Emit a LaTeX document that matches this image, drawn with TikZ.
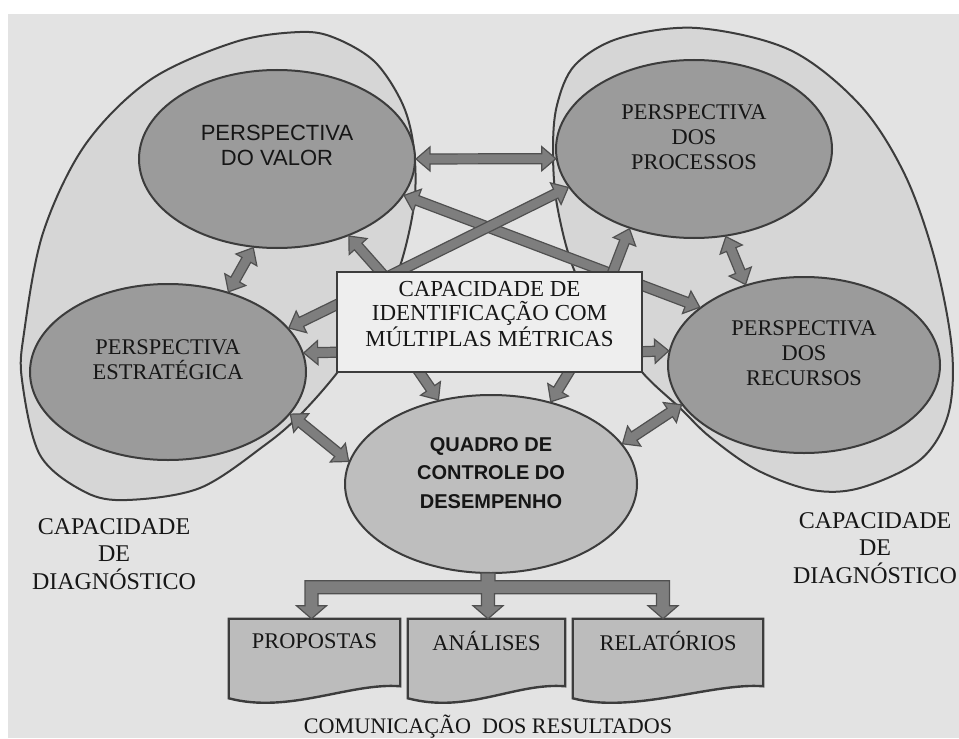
\documentclass[tikz,border=0pt]{standalone}
\usepackage{fontspec}
\setmainfont{Liberation Serif}
\newfontfamily\arialf{Liberation Sans}
\usetikzlibrary{calc,shapes.geometric}
\pgfdeclarelayer{back}
\pgfdeclarelayer{blob}
\pgfdeclarelayer{ell}
\pgfdeclarelayer{arr}
\pgfsetlayers{back,blob,ell,arr,main}

\definecolor{bgc}{HTML}{E3E3E3}
\definecolor{blobc}{HTML}{D6D6D6}
\definecolor{ellc}{HTML}{9B9B9B}
\definecolor{quadc}{HTML}{BEBEBE}
\definecolor{boxc}{HTML}{EEEEEE}
\definecolor{arrc}{HTML}{7E7E7E}
\definecolor{arrl}{HTML}{505050}
\definecolor{linec}{HTML}{3C3C3C}
\definecolor{docc}{HTML}{BCBCBC}
\definecolor{txtc}{HTML}{161616}

\tikzset{
  blobsty/.style={draw=linec, line width=1.5pt, fill=blobc},
  persp/.style={ellipse, draw=linec, line width=1.5pt, fill=ellc, inner sep=0pt},
  cbox/.style={rectangle, draw=linec, line width=1pt, fill=boxc, inner sep=0pt,
    minimum width=228.75pt, minimum height=75pt},
  arrsty/.style={fill=arrc, draw=arrl, line width=0.9pt, line join=miter},
  docn/.style={rectangle, draw=none, inner sep=0pt},
  docsty/.style={draw=linec, line width=1.8pt, fill=docc, line join=miter},
  rmtxt/.style={text=txtc, align=center, inner sep=0pt, font=\fontsize{16.8}{18.75}\selectfont},
  sftxt/.style={text=txtc, align=center, inner sep=0pt, font=\arialf\fontsize{16.5}{18.75}\selectfont},
  sfbtxt/.style={text=txtc, align=center, inner sep=0pt, font=\arialf\bfseries\fontsize{15}{21.4}\selectfont},
  boxtxt/.style={text=txtc, align=center, inner sep=0pt, font=\fontsize{17.2}{18}\selectfont},
  diagtxt/.style={text=txtc, align=center, inner sep=0pt, font=\fontsize{18}{20.5}\selectfont},
}

% single block arrow: tail #1, head #2
\newcommand{\sarr}[2]{%
  \path (#1) coordinate (ta) (#2) coordinate (tb);
  \coordinate (hb) at ($(tb)!10.5pt!(ta)$);
  \draw[arrsty] ($(ta)!3.75pt!90:(tb)$) -- ($(hb)!3.75pt!-90:(ta)$) -- ($(hb)!9pt!-90:(ta)$)
    -- (tb) -- ($(hb)!9pt!90:(ta)$) -- ($(hb)!3.75pt!90:(ta)$) -- ($(ta)!3.75pt!-90:(tb)$) -- cycle;}
% double block arrow
\newcommand{\darr}[2]{%
  \path (#1) coordinate (ta) (#2) coordinate (tb);
  \coordinate (ha) at ($(ta)!10.5pt!(tb)$);
  \coordinate (hb) at ($(tb)!10.5pt!(ta)$);
  \draw[arrsty] (ta) -- ($(ha)!9pt!90:(tb)$) -- ($(ha)!3.75pt!90:(tb)$) -- ($(hb)!3.75pt!-90:(ta)$)
    -- ($(hb)!9pt!-90:(ta)$) -- (tb) -- ($(hb)!9pt!90:(ta)$) -- ($(hb)!3.75pt!90:(ta)$)
    -- ($(ha)!3.75pt!-90:(tb)$) -- ($(ha)!9pt!-90:(tb)$) -- cycle;}
% document shape around an invisible node
\newcommand{\docshape}[1]{%
  \draw[docsty] (#1.north west) -- (#1.north east) -- ($(#1.south east)+(0,-14)$)
    .. controls ($(#1.south east)+(-50,-18)$) and ($(#1.south west)+(60,14)$) .. ($(#1.south west)+(0,-2)$) -- cycle;}

\begin{document}
\begin{tikzpicture}[x=0.75pt,y=-0.75pt]
\useasboundingbox (0,0) rectangle (959,738);
\begin{pgfonlayer}{back}
  \fill[white] (0,0) rectangle (959,738);
  \fill[bgc] (8,14) rectangle (959,738);
\end{pgfonlayer}

\begin{pgfonlayer}{blob}
  \draw[blobsty] plot[smooth cycle, tension=0.55] coordinates {
    (398,272) (414,205) (414,150) (403,105) (375,62) (335,38) (300,32) (235,42)
    (150,80) (85,145) (43,233) (24,333) (22,380) (40,455) (85,492) (127,500)
    (200,488) (265,445) (300,415) (337,373) (370,325)};
  \draw[blobsty] plot[smooth cycle, tension=0.55] coordinates {
    (575,272) (557,205) (553,150) (557,105) (575,65) (620,38) (697,28) (790,50)
    (860,105) (905,175) (935,260) (952,350) (948,415) (920,460) (860,488) (812,490)
    (757,470) (710,437) (680,408) (642,372) (610,325)};
\end{pgfonlayer}

\node[cbox] (box) at (489.5,322) {};

\begin{pgfonlayer}{ell}
  \node[persp, minimum width=207pt, minimum height=133.5pt] (valor) at (277,159) {};
  \node[persp, minimum width=207pt, minimum height=133.5pt] (proc) at (694,149) {};
  \node[persp, minimum width=207pt, minimum height=132pt] (estr) at (168,372) {};
  \node[persp, minimum width=204pt, minimum height=132pt] (recur) at (804,365) {};
  \node[persp, fill=quadc, minimum width=219pt, minimum height=133.5pt] (quadro) at (491,484) {};
\end{pgfonlayer}

\begin{pgfonlayer}{arr}
  \darr{valor.0}{proc.184}
  \darr{valor.255}{estr.53}
  \darr{proc.290}{recur.126}
  \darr{estr.-19}{quadro.171}
  \darr{recur.198.7}{quadro.17.6}
  \darr{valor.-16}{recur.151.5}
  \sarr{$(box.north west)+(50,7)$}{valor.-47}
  \sarr{$(box.north west)+(52,5)$}{proc.197.6}
  \sarr{$(box.north east)+(-33,9)$}{proc.231.8}
  \sarr{$(box.west)+(12,-23)$}{estr.20}
  \sarr{$(box.west)+(10,30)$}{estr.8.5}
  \sarr{$(box.east)+(-10,30)$}{recur.174.5}
  \sarr{$(box.south west)+(77.5,-8.5)$}{quadro.122}
  \sarr{$(box.south east)+(-69,-8.5)$}{quadro.54}
\end{pgfonlayer}

% documents
\node[docn, minimum width=128.25pt, minimum height=60.75pt] (prop) at (314.5,659.5) {};
\node[docn, minimum width=117.75pt, minimum height=60.75pt] (anal) at (486.5,659.5) {};
\node[docn, minimum width=142.5pt, minimum height=60.75pt] (rela) at (668,659.5) {};
\docshape{prop}
\docshape{anal}
\docshape{rela}

% branch connector from quadro to the documents
\coordinate (q0) at ($(quadro.south)+(-3,0)$);
\coordinate (t1) at ($(prop.north)+(-3,0)$);
\coordinate (t2) at ($(anal.north)+(1.5,0)$);
\coordinate (t3) at ($(rela.north)+(-5,0)$);
\draw[arrsty] ($(q0)+(-7,-1)$) -- ($(q0 |- t1)+(-7,-38)$) -- ($(t1)+(-6.5,-38)$) -- ($(t1)+(-6.5,-13)$)
  -- ($(t1)+(-15,-13)$) -- (t1) -- ($(t1)+(15,-13)$) -- ($(t1)+(6.5,-13)$) -- ($(t1)+(6.5,-25)$)
  -- ($(t2)+(-6.5,-25)$) -- ($(t2)+(-6.5,-13)$) -- ($(t2)+(-15,-13)$) -- (t2) -- ($(t2)+(15,-13)$)
  -- ($(t2)+(6.5,-13)$) -- ($(t2)+(6.5,-25)$) -- ($(t3)+(-6.5,-25)$) -- ($(t3)+(-6.5,-13)$)
  -- ($(t3)+(-15,-13)$) -- (t3) -- ($(t3)+(15,-13)$) -- ($(t3)+(6.5,-13)$) -- ($(t3)+(6.5,-38)$)
  -- ($(q0 |- t1)+(7,-38)$) -- ($(q0)+(7,-1)$) -- cycle;

% texts
\node[sftxt] (valort) at ($(valor)+(0,-13.5)$) {PERSPECTIVA\\DO VALOR};
\node[rmtxt] (proct) at ($(proc)+(0,-11.5)$) {PERSPECTIVA\\DOS\\PROCESSOS};
\node[rmtxt] (estrt) at ($(estr)+(0,-12)$) {PERSPECTIVA\\ESTRATÉGICA};
\node[rmtxt] (recurt) at ($(recur)+(0,-12)$) {PERSPECTIVA\\DOS\\RECURSOS};
\node[boxtxt] (boxt) at ($(box)+(0,-8)$) {CAPACIDADE DE\\IDENTIFICAÇÃO COM\\MÚLTIPLAS MÉTRICAS};
\node[sfbtxt] (quadrot) at ($(quadro)+(0,-11)$) {QUADRO DE\\CONTROLE DO\\DESEMPENHO};
\node[rmtxt] (propt) at ($(prop.north)+(0,22)$) {PROPOSTAS};
\node[rmtxt] (analt) at ($(anal.north)+(0,22)$) {ANÁLISES};
\node[rmtxt] (relat) at ($(rela.north)+(0,22)$) {RELATÓRIOS};
\node[diagtxt] (diagl) at (114,554) {CAPACIDADE\\DE\\DIAGNÓSTICO};
\node[diagtxt] (diagr) at (875,548) {CAPACIDADE\\DE\\DIAGNÓSTICO};
\node[rmtxt, font=\fontsize{16.6}{18}\selectfont] (comt) at (488,727) {COMUNICAÇÃO\ \ DOS RESULTADOS};
\end{tikzpicture}
\end{document}
